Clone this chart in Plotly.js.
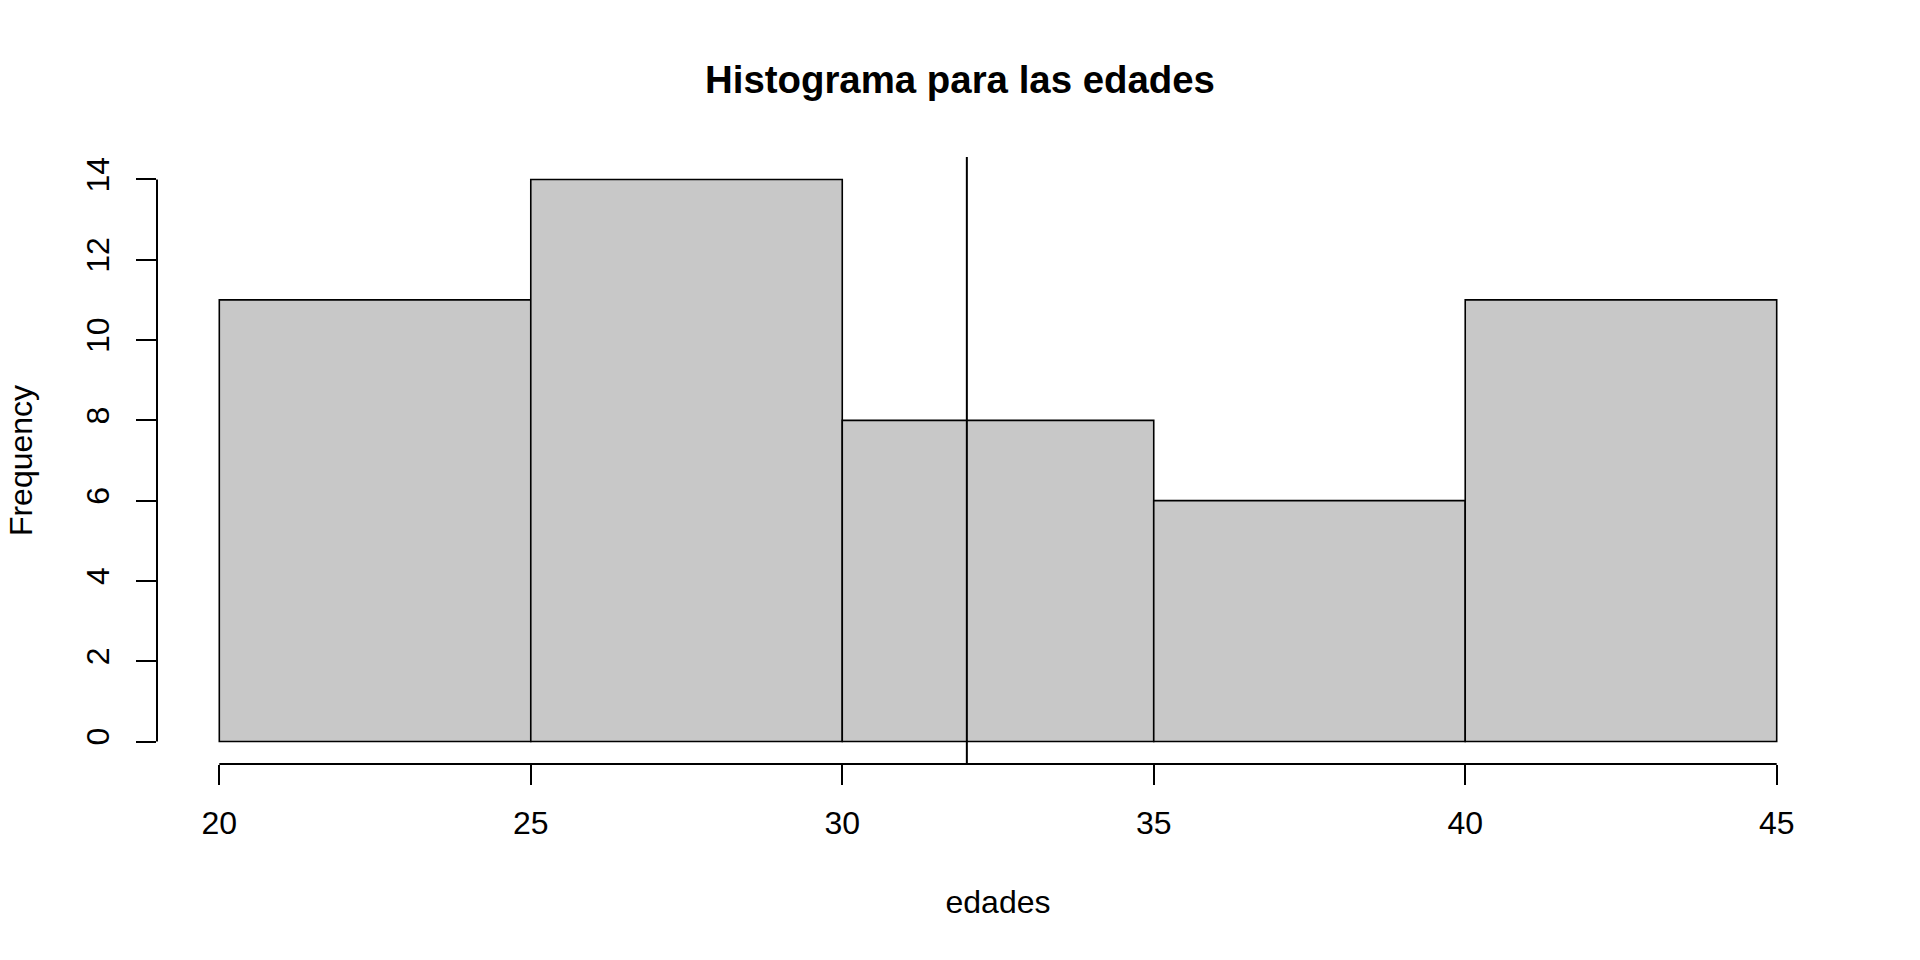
<!DOCTYPE html>
<html>
<head>
<meta charset="utf-8">
<script src="https://cdn.plot.ly/plotly-3.0.1.min.js"></script>
<style>html,body{margin:0;padding:0;background:#fff;}#chart{width:1920px;height:960px;}</style>
</head>
<body>
<div id="chart"></div>
<script>
// Data
const binEdges = [20, 25, 30, 35, 40, 45];
const counts = [11, 14, 8, 6, 11];
const meanAge = 32;
const xTicks = [20, 25, 30, 35, 40, 45];
const yTicks = [0, 2, 4, 6, 8, 10, 12, 14];
const titleText = "Histograma para las edades";
const xLabel = "edades";
const yLabel = "Frequency";

const mids = counts.map((_, i) => (binEdges[i] + binEdges[i + 1]) / 2);
const widths = counts.map((_, i) => binEdges[i + 1] - binEdges[i]);

const FONT = "Liberation Sans, Arial, Helvetica, sans-serif";

const trace = {
  type: "bar",
  x: mids,
  y: counts,
  width: widths,
  marker: { color: "#c8c8c8", line: { color: "#000", width: 1.6 } },
  hoverinfo: "x+y"
};

const xMin = xTicks[0], xMax = xTicks[xTicks.length - 1];
const yMin = yTicks[0], yMax = yTicks[yTicks.length - 1];
const xPad = (xMax - xMin) * 0.04;
const yPad = (yMax - yMin) * 0.04;

const layout = {
  width: 1920,
  height: 960,
  paper_bgcolor: "#fff",
  plot_bgcolor: "#fff",
  showlegend: false,
  margin: { l: 157, r: 81, t: 157, b: 196, pad: 0 },
  font: { family: FONT, color: "#000", size: 32 },
  title: {
    text: "<b>" + titleText + "</b>",
    font: { family: FONT, size: 38.4, color: "#000" },
    x: 0.5, xref: "container",
    y: 1 - 80 / 960, yref: "container", yanchor: "middle"
  },
  xaxis: {
    range: [xMin - xPad, xMax + xPad],
    tickmode: "array",
    tickvals: xTicks,
    ticktext: xTicks.map(String),
    ticks: "outside", ticklen: 20, tickwidth: 2, tickcolor: "#000",
    showgrid: false, zeroline: false, showline: false,
    tickfont: { family: FONT, size: 32, color: "#000" },
    ticklabelstandoff: 11,
    title: { text: xLabel, font: { family: FONT, size: 32, color: "#000" }, standoff: 50 },
    fixedrange: true
  },
  yaxis: {
    range: [yMin - yPad, yMax + yPad],
    tickmode: "array",
    tickvals: yTicks,
    ticktext: yTicks.map(String),
    ticks: "outside", ticklen: 20, tickwidth: 2, tickcolor: "#000",
    tickangle: -90,
    showgrid: false, zeroline: false, showline: false,
    tickfont: { family: FONT, size: 32, color: "#000" },
    ticklabelstandoff: 14,
    title: { text: yLabel, font: { family: FONT, size: 32, color: "#000" }, standoff: 38 },
    fixedrange: true
  },
  shapes: [
    { type: "line", xref: "x", yref: "paper", x0: xMin, x1: xMax, y0: 0, y1: 0,
      line: { color: "#000", width: 2 } },
    { type: "line", xref: "paper", yref: "y", x0: 0, x1: 0, y0: yMin, y1: yMax,
      line: { color: "#000", width: 2 } },
    { type: "line", xref: "x", yref: "paper", x0: meanAge, x1: meanAge, y0: 0, y1: 1,
      line: { color: "#000", width: 2 }, layer: "above" }
  ]
};

Plotly.newPlot("chart", [trace], layout, { displayModeBar: false, staticPlot: true });
</script>
</body>
</html>
